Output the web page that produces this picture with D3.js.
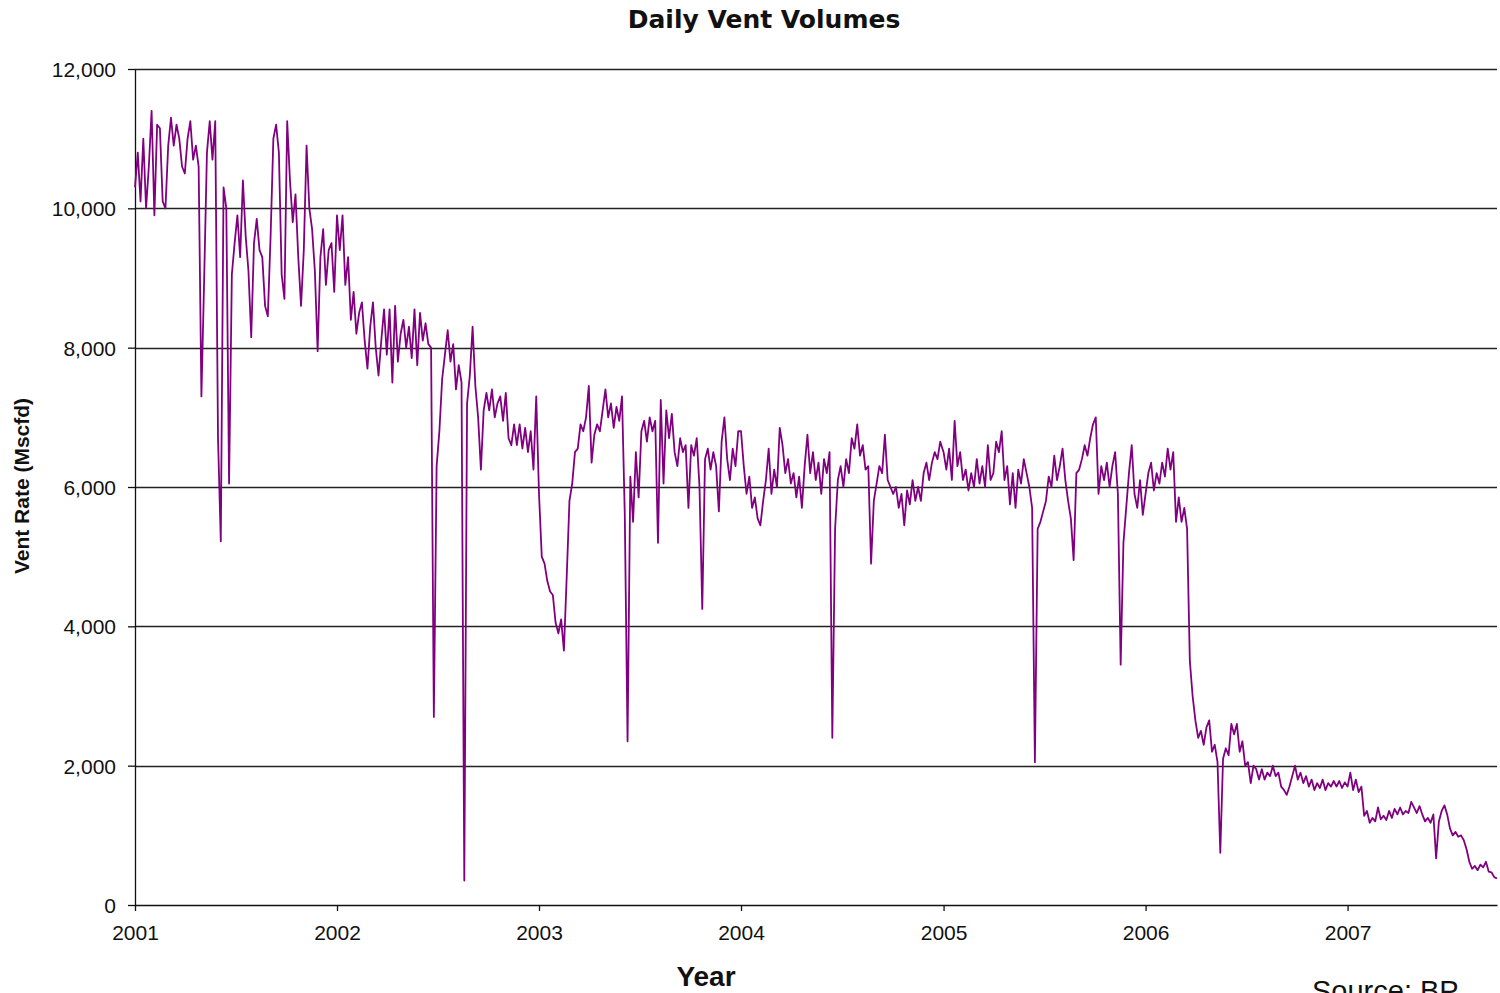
<!DOCTYPE html>
<html>
<head>
<meta charset="utf-8">
<script src="https://cdn.jsdelivr.net/npm/d3@7"></script>
<style>
  body { margin: 0; background: #fff; }
  text { font-family: "Liberation Sans", Arial, sans-serif; fill: #111; }
</style>
</head>
<body>
<div id="chart"></div>
<script>
// Daily vent rate (Mscfd) at 5 day steps starting Jan 1 of each year.
var years = [2001, 2002, 2003, 2004, 2005, 2006, 2007];
var stepDays = 5;

var vent2001 = [10300,10800,10100,11000,10000,10600,11400,9900,11200,11150,
                10100,10000,10900,11300,10900,11200,11000,10600,10500,11000,
                11250,10700,10900,10600,7300,9000,10800,11250,10700,11250,
                6700,5220,10300,10000,6050,9050,9500,9900,9300,10400,
                9600,9100,8150,9500,9850,9400,9300,8600,8450,9600,
                11000,11200,10800,9050,8700,11250,10400,9800,10200,9300,
                8600,9400,10900,10000,9700,9100,7950,9300,9700,8900,
                9400,9500,8800];
var vent2002 = [9900,9400,9900,8900,9300,8400,8800,8200,8500,8650,
                8100,7700,8300,8650,8000,7600,8100,8550,7900,8550,
                7500,8600,7800,8200,8400,8000,8300,7850,8550,7750,
                8500,8100,8350,8050,8000,2700,6300,6800,7550,7900,
                8250,7800,8050,7400,7750,7500,350,7200,7600,8300,
                7450,7000,6250,7100,7350,7100,7400,7000,7200,7300,
                6950,7350,6700,6600,6900,6600,6900,6550,6850,6500,
                6800,6250,7300];
var vent2003 = [5900,5000,4900,4650,4500,4450,4050,3900,4100,3650,
                4700,5800,6050,6500,6550,6900,6800,7000,7450,6350,
                6750,6900,6800,7100,7400,7000,7200,6850,7150,6950,
                7300,5600,2350,6150,5500,6500,5850,6800,6950,6650,
                7000,6800,6950,5200,7250,6050,7100,6700,7050,6500,
                6300,6700,6500,6600,5700,6600,6450,6700,6000,4250,
                6400,6550,6250,6500,6300,5650,6650,7000,6400,6100,
                6550,6300,6800];
var vent2004 = [6800,6300,5900,6150,5700,5850,5550,5450,5800,6100,
                6550,5900,6250,6000,6850,6600,6200,6400,6050,6200,
                5850,6150,5700,6300,6750,6200,6500,6100,6350,5900,
                6400,6200,6500,2400,5400,6100,6300,6000,6400,6200,
                6700,6550,6900,6450,6600,6250,6300,4900,5800,6050,
                6300,6200,6750,6100,6000,5900,6000,5700,5900,5450,
                5950,5750,6100,5800,6000,5800,6200,6350,6100,6350,
                6500,6400,6650];
var vent2005 = [6500,6250,6550,6100,6950,6300,6500,6100,6250,5950,
                6200,6000,6400,6050,6300,6000,6600,6100,6200,6650,
                6500,6800,6100,6300,5750,6200,5700,6250,6050,6400,
                6200,6000,5700,2050,5400,5500,5650,5800,6150,6000,
                6450,6100,6300,6550,6100,5800,5550,4950,6200,6250,
                6400,6600,6450,6700,6900,7000,5900,6300,6100,6350,
                6000,6300,6500,5900,3450,5200,5700,6200,6600,5900,
                5700,6100,5600];
var vent2006 = [5900,6200,6350,5950,6200,6050,6350,6150,6550,6250,
                6500,5500,5850,5500,5700,5400,3500,3000,2650,2400,
                2500,2300,2550,2650,2200,2300,2050,750,2100,2250,
                2150,2600,2450,2600,2200,2350,2000,2050,1750,2000,
                1950,1800,1950,1800,1900,1850,2000,1850,1900,1700,
                1650,1580,1700,1850,2000,1800,1900,1750,1850,1700,
                1800,1650,1750,1680,1800,1650,1750,1700,1780,1700,
                1780,1680,1760];
var vent2007 = [1700,1900,1650,1800,1620,1700,1280,1350,1180,1250,
                1200,1400,1230,1280,1220,1350,1250,1380,1300,1400,
                1300,1350,1320,1480,1400,1320,1420,1300,1200,1250,
                1180,1300,670,1200,1350,1430,1300,1100,1000,1050,
                980,1000,930,800,620,520,560,500,580,540,
                620,480,470,400,380];

var yTicks = [0, 2000, 4000, 6000, 8000, 10000, 12000];

var series = [vent2001, vent2002, vent2003, vent2004, vent2005, vent2006, vent2007];

// Flatten into one dated series
var data = [];
years.forEach(function (yr, k) {
    series[k].forEach(function (v, i) {
        data.push({ date: new Date(yr, 0, 1 + stepDays * i), value: v });
    });
});

var W = 1500, H = 993;
var plot = { left: 135, right: 1497, top: 69, bottom: 905 };

var svg = d3.select("#chart").append("svg")
    .attr("width", W)
    .attr("height", H);

var x = d3.scaleTime()
    .domain([new Date(2001, 0, 1), new Date(2007, 8, 28)])
    .range([plot.left, plot.right]);

var y = d3.scaleLinear()
    .domain([0, 12000])
    .range([plot.bottom, plot.top]);

// Horizontal gridlines
svg.append("g")
    .selectAll("line")
    .data(yTicks.filter(function (d) { return d > 0; }))
    .enter()
    .append("line")
    .attr("x1", plot.left)
    .attr("x2", plot.right)
    .attr("y1", function (d) { return Math.round(y(d)) + 0.5; })
    .attr("y2", function (d) { return Math.round(y(d)) + 0.5; })
    .attr("stroke", "#222")
    .attr("stroke-width", 1.3);

// Y axis
var yAxis = svg.append("g")
    .attr("transform", "translate(" + plot.left + ",0)")
    .call(d3.axisLeft(y).tickValues(yTicks).tickFormat(d3.format(",")).tickSize(7).tickSizeOuter(0).tickPadding(12));
yAxis.selectAll("text").style("font-size", "21px").attr("dy", "0.36em");
yAxis.selectAll("line, path").attr("stroke", "#111").attr("stroke-width", 1.3);

// X axis
var xAxis = svg.append("g")
    .attr("transform", "translate(0," + plot.bottom + ")")
    .call(d3.axisBottom(x).ticks(d3.timeYear.every(1)).tickFormat(d3.timeFormat("%Y")).tickSize(6).tickSizeOuter(0).tickPadding(14));
xAxis.selectAll("text").style("font-size", "21px");
xAxis.selectAll("line, path").attr("stroke", "#111").attr("stroke-width", 1.3);

// The vent line
svg.append("path")
    .datum(data)
    .attr("fill", "none")
    .attr("stroke", "#800080")
    .attr("stroke-width", 1.8)
    .attr("stroke-linejoin", "round")
    .attr("d", d3.line()
        .x(function (d) { return x(d.date); })
        .y(function (d) { return y(d.value); }));

// Titles
svg.append("text")
    .attr("x", 764)
    .attr("y", 28)
    .attr("text-anchor", "middle")
    .style("font-family", "'DejaVu Sans', Verdana, sans-serif")
    .style("font-weight", "bold")
    .style("font-size", "25px")
    .text("Daily Vent Volumes");

svg.append("text")
    .attr("transform", "translate(29,486)rotate(-90)")
    .attr("text-anchor", "middle")
    .style("font-weight", "bold")
    .style("font-size", "21px")
    .text("Vent Rate (Mscfd)");

svg.append("text")
    .attr("x", 706)
    .attr("y", 986)
    .attr("text-anchor", "middle")
    .style("font-weight", "bold")
    .style("font-size", "28px")
    .text("Year");

svg.append("text")
    .attr("x", 1312)
    .attr("y", 1001)
    .style("font-size", "29px")
    .text("Source: BP");
</script>
</body>
</html>
